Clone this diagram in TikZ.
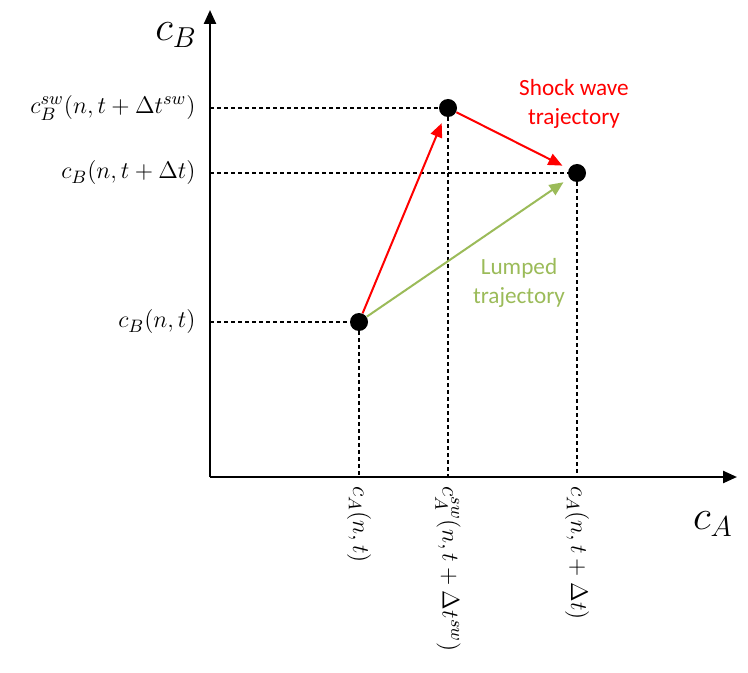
\documentclass[tikz,border=0pt]{standalone}
\usepackage{amsmath}
\usepackage{fontspec}
\setmainfont{Carlito}
\usetikzlibrary{positioning,arrows.meta}
\definecolor{lumpgreen}{HTML}{9BBB59}

\begin{document}
\begin{tikzpicture}[x=0.5pt,y=-0.5pt,>={Triangle[length=7pt,width=6pt]},
  dot/.style={circle,fill=black,minimum size=9pt,inner sep=0pt},
  axis/.style={->,line width=1.2pt},
  guide/.style={line width=0.7pt,dash pattern=on 2pt off 1.5pt},
  traj/.style={->,line width=1pt,shorten >=3.5pt},
  tick/.style={font=\fontsize{12.2}{14}\selectfont,inner sep=0pt},
  vtick/.style={font=\fontsize{12.8}{15}\selectfont,inner sep=0pt,rotate=-90,anchor=west},
  axlab/.style={font=\fontsize{22}{25}\selectfont,inner sep=0pt},
  note/.style={font=\fontsize{11.6}{14.5}\selectfont,align=center}]
  \useasboundingbox (0,0) rectangle (748,673);
  \coordinate (o) at (210,477);
  \coordinate (ytop) at (210,10);
  \coordinate (xend) at (737,477);
  \node[dot] (p0) at (359,322) {};
  \node[dot] (p1) at (448,108) {};
  \node[dot] (p2) at (577,173) {};
  \coordinate (y0) at (o |- p0);
  \coordinate (y1) at (o |- p1);
  \coordinate (y2) at (o |- p2);
  \coordinate (x0) at (o -| p0);
  \coordinate (x1) at (o -| p1);
  \coordinate (x2) at (o -| p2);
  \draw[guide] (y0) -- (p0) -- (x0);
  \draw[guide] (y1) -- (p1) -- (x1);
  \draw[guide] (y2) -- (p2) -- (x2);
  \draw[axis] (o) -- (ytop);
  \draw[axis] (o) -- (xend);
  \node[axlab] (lb) at (176,35) {$c_B$};
  \node[axlab] (la) at (713,524) {$c_A$};
  \node[tick,left=7pt of y1] (t1) {$c_B^{sw}(n,t+\Delta t^{sw})$};
  \node[tick,left=7pt of y2] (t2) {$c_B(n,t+\Delta t)$};
  \node[tick,left=7pt of y0] (t0) {$c_B(n,t)$};
  \node[vtick] (s0) at ([yshift=-4.5pt]x0) {$c_A(n,t)$};
  \node[vtick] (s1) at ([yshift=-4.5pt]x1) {$c_A^{sw}(n,t+\Delta t^{sw})$};
  \node[vtick] (s2) at ([yshift=-4.5pt]x2) {$c_A(n,t+\Delta t)$};
  \draw[traj,red] (p0) -- (p1);
  \draw[traj,red] (p1) -- (p2);
  \draw[traj,lumpgreen] (p0) -- (p2);
  \node[note,text=red] (sw) at (574,104) {Shock wave\\trajectory};
  \node[note,text=lumpgreen] (lu) at (519,283) {Lumped\\trajectory};
\end{tikzpicture}
\end{document}
